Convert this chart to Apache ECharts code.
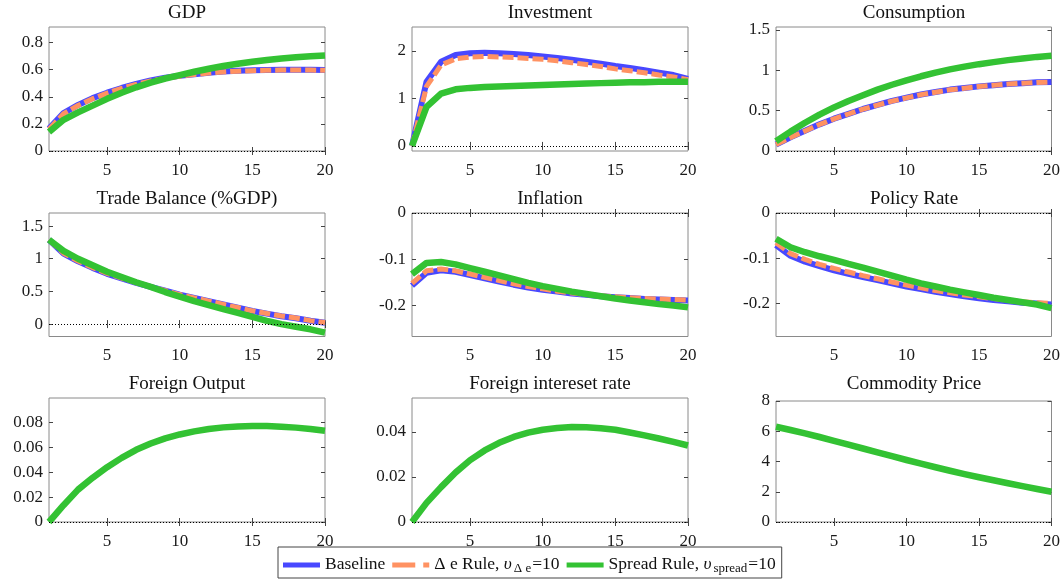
<!DOCTYPE html>
<html><head><meta charset="utf-8">
<script src="https://cdn.jsdelivr.net/npm/echarts@6/dist/echarts.min.js"></script>
<style>html,body{margin:0;padding:0;background:#fff}#c{width:1063px;height:581px}</style>
</head><body><div id="c"></div>
<script>
const periods = [1,2,3,4,5,6,7,8,9,10,11,12,13,14,15,16,17,18,19,20];
const xTicks = [5,10,15,20];
const titles = ['GDP','Investment','Consumption','Trade Balance (%GDP)','Inflation','Policy Rate','Foreign Output','Foreign intereset rate','Commodity Price'];
const seriesNames = ['Baseline','Δ e Rule','Spread Rule'];

const gdpBase   = [0.165,0.28,0.34,0.39,0.43,0.465,0.495,0.52,0.54,0.555,0.567,0.578,0.586,0.592,0.596,0.598,0.6,0.6,0.6,0.598];
const gdpDe     = [0.16,0.275,0.336,0.386,0.427,0.462,0.492,0.517,0.537,0.552,0.564,0.575,0.583,0.589,0.593,0.595,0.597,0.597,0.597,0.595];
const gdpSpread = [0.14,0.23,0.285,0.335,0.385,0.43,0.47,0.505,0.535,0.56,0.585,0.607,0.627,0.644,0.659,0.672,0.683,0.692,0.699,0.705];

const invBase   = [0,1.35,1.77,1.91,1.95,1.96,1.95,1.93,1.91,1.88,1.85,1.81,1.77,1.73,1.68,1.64,1.59,1.54,1.49,1.41];
const invDe     = [0,1.25,1.70,1.83,1.87,1.88,1.87,1.86,1.84,1.82,1.79,1.75,1.71,1.67,1.62,1.58,1.54,1.49,1.45,1.39];
const invSpread = [0,0.82,1.1,1.19,1.22,1.24,1.25,1.26,1.27,1.28,1.29,1.30,1.31,1.32,1.33,1.34,1.34,1.35,1.35,1.35];

const conBase   = [0.08,0.17,0.25,0.33,0.40,0.46,0.52,0.57,0.62,0.66,0.70,0.73,0.76,0.78,0.80,0.815,0.83,0.84,0.85,0.855];
const conDe     = [0.08,0.168,0.248,0.328,0.398,0.458,0.518,0.568,0.618,0.658,0.698,0.728,0.758,0.778,0.798,0.813,0.828,0.838,0.848,0.853];
const conSpread = [0.12,0.24,0.35,0.45,0.54,0.62,0.69,0.76,0.82,0.875,0.925,0.97,1.01,1.045,1.075,1.10,1.125,1.145,1.165,1.18];

const tbBase    = [1.29,1.08,0.96,0.86,0.77,0.70,0.63,0.57,0.51,0.45,0.40,0.35,0.30,0.25,0.20,0.16,0.12,0.09,0.05,0.02];
const tbDe      = [1.29,1.085,0.965,0.865,0.775,0.703,0.633,0.572,0.512,0.452,0.402,0.352,0.302,0.253,0.203,0.163,0.123,0.093,0.053,0.023];
const tbSpread  = [1.29,1.12,1.0,0.9,0.8,0.72,0.64,0.57,0.49,0.42,0.35,0.29,0.23,0.17,0.11,0.05,0.0,-0.04,-0.08,-0.13];

const infBase   = [-0.157,-0.129,-0.124,-0.127,-0.134,-0.141,-0.148,-0.155,-0.161,-0.166,-0.170,-0.174,-0.177,-0.180,-0.182,-0.184,-0.186,-0.187,-0.188,-0.189];
const infDe     = [-0.152,-0.125,-0.121,-0.125,-0.132,-0.139,-0.146,-0.153,-0.159,-0.164,-0.169,-0.173,-0.176,-0.179,-0.181,-0.183,-0.185,-0.186,-0.187,-0.188];
const infSpread = [-0.132,-0.108,-0.106,-0.111,-0.119,-0.127,-0.135,-0.143,-0.151,-0.158,-0.164,-0.170,-0.175,-0.180,-0.185,-0.189,-0.193,-0.197,-0.200,-0.204];

const polBase   = [-0.071,-0.095,-0.108,-0.118,-0.127,-0.135,-0.142,-0.149,-0.156,-0.163,-0.169,-0.175,-0.180,-0.185,-0.189,-0.193,-0.196,-0.199,-0.201,-0.203];
const polDe     = [-0.066,-0.090,-0.103,-0.114,-0.123,-0.131,-0.139,-0.146,-0.153,-0.160,-0.166,-0.172,-0.177,-0.182,-0.186,-0.190,-0.194,-0.197,-0.199,-0.201];
const polSpread = [-0.057,-0.076,-0.087,-0.096,-0.104,-0.113,-0.121,-0.130,-0.139,-0.148,-0.156,-0.163,-0.170,-0.176,-0.182,-0.188,-0.193,-0.198,-0.203,-0.211];

const foSpread  = [0,0.0135,0.026,0.0355,0.044,0.0515,0.058,0.063,0.0672,0.0703,0.0728,0.0747,0.076,0.0768,0.0772,0.0771,0.0766,0.0758,0.0747,0.0733];
const firSpread = [0,0.0085,0.0155,0.022,0.0275,0.0318,0.0352,0.0378,0.0397,0.041,0.0418,0.0422,0.0421,0.0417,0.041,0.0398,0.0385,0.0371,0.0356,0.034];
const cpSpread  = [6.3,6.08,5.86,5.62,5.37,5.12,4.86,4.6,4.35,4.1,3.86,3.62,3.39,3.17,2.96,2.76,2.56,2.37,2.18,2.0];

const yTicksGdp = [0,0.2,0.4,0.6,0.8];
const yTicksInv = [0,1,2];
const yTicksCon = [0,0.5,1,1.5];
const yTicksTb  = [0,0.5,1,1.5];
const yTicksInf = [-0.2,-0.1,0];
const yTicksPol = [-0.2,-0.1,0];
const yTicksFo  = [0,0.02,0.04,0.06,0.08];
const yTicksFir = [0,0.02,0.04];
const yTicksCp  = [0,2,4,6,8];

const FONT = 'Liberation Serif';
const colors = ['#4848ff','#ff9262','#33c233'];

const colLeft = [49, 412, 776];
const plotW = 276;
const rowTop = [27, 213, 398];
const plotH = [124, 123.5, 124];

const panels = [
  {d:[gdpBase,gdpDe,gdpSpread], t:yTicksGdp, min:0, max:0.915},
  {d:[invBase,invDe,invSpread], t:yTicksInv, min:-0.107, max:2.5},
  {d:[conBase,conDe,conSpread], t:yTicksCon, min:0, max:1.535},
  {d:[tbBase,tbDe,tbSpread], t:yTicksTb, min:-0.19, max:1.70},
  {d:[infBase,infDe,infSpread], t:yTicksInf, min:-0.267, max:0},
  {d:[polBase,polDe,polSpread], t:yTicksPol, min:-0.274, max:0},
  {d:[null,null,foSpread], t:yTicksFo, min:0, max:0.0996},
  {d:[null,null,firSpread], t:yTicksFir, min:0, max:0.0551},
  {d:[null,null,cpSpread], t:yTicksCp, min:0, max:8, topAdj:3}
];

const grid=[], xAxis=[], yAxis=[], series=[], title=[];
const tickStyle = {color:'#444', width:1};
panels.forEach((p,i)=>{
  const r = Math.floor(i/3), c = i%3;
  const top = rowTop[r] + (p.topAdj||0);
  const h = plotH[r] - (p.topAdj||0);
  grid.push({left:colLeft[c], top:top, width:plotW, height:h, show:true, borderColor:'#8a8a8a', borderWidth:1, containLabel:false});
  title.push({text:titles[i], left:colLeft[c]+plotW/2, top:rowTop[r]-23, textAlign:'center', padding:0,
    textStyle:{fontFamily:FONT, fontSize:19, fontWeight:'normal', color:'#111'}});
  const xb = {type:'value', gridIndex:i, min:1, max:20, axisLine:{show:false}, splitLine:{show:false}};
  xAxis.push(Object.assign({}, xb, {position:'bottom',
    axisTick:{show:true, inside:true, length:4, customValues:xTicks, lineStyle:tickStyle},
    axisLabel:{show:true, customValues:xTicks, fontFamily:FONT, fontSize:17, color:'#1a1a1a', margin:11}}));
  xAxis.push(Object.assign({}, xb, {position:'top',
    axisTick:{show:true, inside:true, length:4, customValues:xTicks, lineStyle:tickStyle},
    axisLabel:{show:false}}));
  const yb = {type:'value', gridIndex:i, min:p.min, max:p.max, axisLine:{show:false}, splitLine:{show:false}};
  yAxis.push(Object.assign({}, yb, {position:'left',
    axisTick:{show:true, inside:true, length:4, customValues:p.t, lineStyle:tickStyle},
    axisLabel:{show:true, customValues:p.t, fontFamily:FONT, fontSize:17, color:'#1a1a1a', margin:6}}));
  yAxis.push(Object.assign({}, yb, {position:'right',
    axisTick:{show:true, inside:true, length:4, customValues:p.t, lineStyle:tickStyle},
    axisLabel:{show:false}}));
  let first = true;
  p.d.forEach((arr,k)=>{
    if(!arr) return;
    const s = {
      name: seriesNames[k], type:'line', xAxisIndex:2*i, yAxisIndex:2*i,
      data: periods.map((t,j)=>[t, arr[j]]),
      symbol:'none', smooth:false, animation:false,
      lineStyle:{color:colors[k], width: k===2?6.5:(k===0?6:5), type: k===1?[11,4]:'solid', cap:'butt', join:'round'},
      itemStyle:{color:colors[k]},
      z: 2+k
    };
    if(first){
      s.markLine = {silent:true, symbol:'none', animation:false, label:{show:false},
        lineStyle:{type:[1,2], color:'#000', width:1}, data:[{yAxis:0}]};
      first = false;
    }
    series.push(s);
  });
});

const chart = echarts.init(document.getElementById('c'), null, {renderer:'canvas'});
chart.setOption({
  backgroundColor:'#fff',
  animation:false,
  title: title,
  grid: grid, xAxis: xAxis, yAxis: yAxis, series: series,
  legend: {
    data: [
      {name: seriesNames[0], icon:'path://M0,0H37V5H0Z'},
      {name: seriesNames[1], icon:'path://M0,0H23V5H0Z M31,0H37V5H31Z'},
      {name: seriesNames[2], icon:'path://M0,0H37V5H0Z'}
    ],
    left: 278, top: 547, orient:'horizontal',
    borderColor:'#444', borderWidth:1, padding:[3,6,3,5], itemGap:7,
    itemWidth:37, itemHeight:5, selectedMode:false,
    formatter: function(name){
      if(name==='Baseline') return '{t|Baseline}';
      if(name==='Δ e Rule') return '{t|Δ e Rule, }{v|υ}{s|Δ e}{t|=10}';
      return '{t|Spread Rule, }{v|υ}{s|spread}{t|=10}';
    },
    textStyle: {fontFamily:FONT, fontSize:17.5, color:'#111',
      rich:{
        t:{fontFamily:FONT, fontSize:17.5, color:'#111', lineHeight:20, verticalAlign:'top'},
        v:{fontFamily:FONT, fontSize:17.5, fontStyle:'italic', color:'#111', lineHeight:20, verticalAlign:'top', padding:[0,1,0,0]},
        s:{fontFamily:FONT, fontSize:13, color:'#111', lineHeight:13, verticalAlign:'bottom', padding:[12,1,0,1]}
      }}
  }
});
</script></body></html>
